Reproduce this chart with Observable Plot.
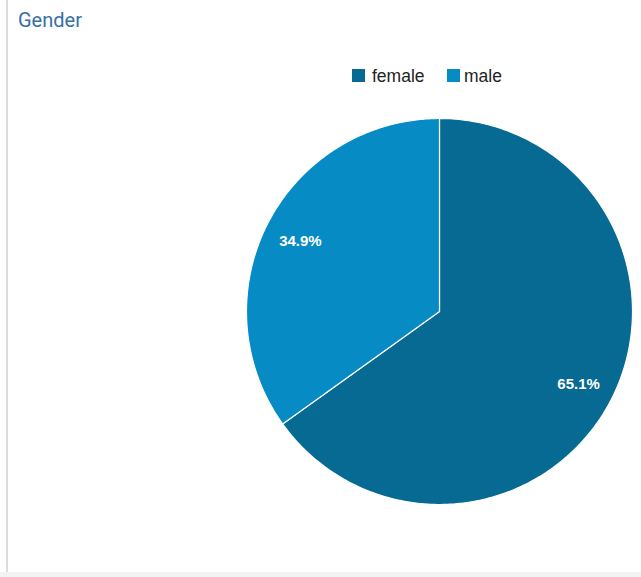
<!DOCTYPE html>
<html>
<head>
<meta charset="utf-8">
<script src="https://cdn.jsdelivr.net/npm/d3@7"></script>
<script src="https://cdn.jsdelivr.net/npm/@observablehq/plot@0.6"></script>
<style>
  html, body { margin: 0; padding: 0; background: #fff; }
  #wrap { position: relative; width: 641px; height: 577px; overflow: hidden; background: #fff; }
  #border { position: absolute; left: 6px; top: 0; width: 2px; height: 572px; background: #dcdcdc; }
  #band { position: absolute; left: 0; top: 572px; width: 641px; height: 5px; background: #f2f2f2; }
  #title { position: absolute; left: 18px; top: 10px; line-height: 20px; font-family: Roboto, "Open Sans", sans-serif; font-size: 20px; color: #3570a6; white-space: nowrap; }
  .sw { position: absolute; width: 12.5px; height: 12.5px; top: 69px; }
  .lt { position: absolute; top: 67px; line-height: 18px; font-family: Arial, "Liberation Sans", sans-serif; font-size: 17.5px; color: #222; white-space: nowrap; }
  #chart { position: absolute; left: 0; top: 0; }
</style>
</head>
<body>
<div id="wrap">
  <div id="border"></div>
  <div id="band"></div>
  <div id="title">Gender</div>
  <div id="legend"></div>
  <div id="chart"></div>
</div>
<script>
const categories = ["female", "male"];
const values = [65.1, 34.9];
const labels = ["65.1%", "34.9%"];
const colors = ["#066a93", "#078bc5"];

// legend (HTML, above the SVG)
const legend = document.getElementById("legend");
const legendSwatchX = [352, 447];
const legendTextX = [372, 464];
categories.forEach((c, i) => {
  const sw = document.createElement("div");
  sw.className = "sw";
  sw.style.left = legendSwatchX[i] + "px";
  sw.style.background = colors[i];
  legend.appendChild(sw);
  const t = document.createElement("div");
  t.className = "lt";
  t.style.left = legendTextX[i] + "px";
  t.textContent = c;
  legend.appendChild(t);
});

const arcs = d3.pie().sort(null).startAngle(0).endAngle(2 * Math.PI)(values);

const slices = arcs.map((a, i) => {
  const pts = [{x: 0, y: 0}];
  const n = 240;
  for (let k = 0; k <= n; k++) {
    const t = a.startAngle + (a.endAngle - a.startAngle) * k / n;
    pts.push({x: Math.sin(t), y: Math.cos(t)});
  }
  pts.push({x: 0, y: 0});
  return {pts, color: colors[i]};
});

const labelData = arcs.map((a, i) => {
  const m = (a.startAngle + a.endAngle) / 2;
  const r = 0.81;
  return {x: r * Math.sin(m), y: r * Math.cos(m), text: labels[i]};
});

const plot = Plot.plot({
  width: 641,
  height: 577,
  margin: 0,
  x: {domain: [-1, 1], range: [246, 632], axis: null},
  y: {domain: [-1, 1], range: [504, 118], axis: null},
  marks: [
    ...slices.map(s => Plot.line(s.pts, {x: "x", y: "y", fill: s.color, stroke: "#fff", strokeWidth: 1.2, curve: "linear"})),
    Plot.text(labelData, {x: "x", y: "y", dy: 1, text: "text", fill: "#fff", fontSize: 15, fontWeight: "bold", fontFamily: "Arial, 'Liberation Sans', sans-serif"})
  ],
  style: {background: "transparent", overflow: "visible"}
});
document.getElementById("chart").appendChild(plot);
</script>
</body>
</html>
